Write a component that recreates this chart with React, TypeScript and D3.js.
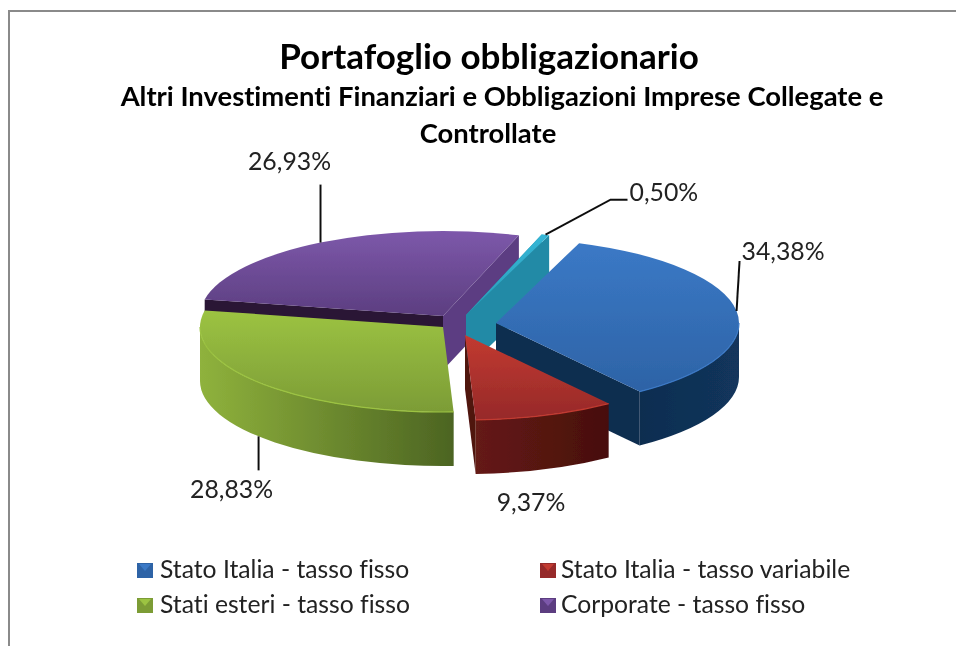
import React from 'react';
import * as d3 from 'd3';

const categories = [
  'Stato Italia - tasso fisso',
  'Stato Italia - tasso variabile',
  'Stati esteri - tasso fisso',
  'Corporate - tasso fisso',
  'Altro',
];
const values = [34.38, 9.37, 28.83, 26.93, 0.5];
const labels = ['34,38%', '9,37%', '28,83%', '26,93%', '0,50%'];
const legendOrder = [0, 1, 2, 3];

// apex of each exploded slice on the page
const apexes = [
  [496, 323],
  [465, 335],
  [443, 327],
  [443, 316],
  [466, 315],
];
const topColors = [
  ['#3b79c6', '#2d63a6'],
  ['#c23a30', '#96292a'],
  ['#9cc342', '#7c9c36'],
  ['#7d58aa', '#5c3e80'],
  ['#35b6d6', '#2a9cb8'],
];
const wallColors = [
  ['#0f2d50', '#12355c'],
  ['#651a14', '#470f0e'],
  ['#8fb23c', '#4c6422'],
  ['#2a1436', '#2a1436'],
  ['#2490ac', '#1d6b80'],
];

const RX = 243;
const RY = 85;
const DEPTH = 54;
const deg = Math.PI / 180;

const slices = d3
  .pie<number>()
  .sort(null)
  .startAngle(20 * deg)
  .endAngle(380 * deg)(values);

const topArc = d3.arc<d3.PieArcDatum<number>>().innerRadius(0).outerRadius(RX);

const at = (i: number, a: number, drop = 0): [number, number] => [
  apexes[i][0] + RX * Math.sin(a),
  apexes[i][1] - RY * Math.cos(a) + drop,
];

// outer rim between two angles, extruded downwards
const rimPath = (i: number, a0: number, a1: number) => {
  const p0 = at(i, a0);
  const p1 = at(i, a1);
  const p2 = at(i, a1, DEPTH);
  const p3 = at(i, a0, DEPTH);
  return `M${p0}A${RX},${RY} 0 0 1 ${p1}L${p2}A${RX},${RY} 0 0 0 ${p3}Z`;
};

// flat cut face running from the apex to the rim
const cutPath = (i: number, a: number) => {
  const [x, y] = apexes[i];
  const p = at(i, a);
  return `M${x},${y}L${p}L${p[0]},${p[1] + DEPTH}L${x},${y + DEPTH}Z`;
};

// cut faces seen from the front, with their colours
const visibleCuts: [number, 'startAngle' | 'endAngle', string][] = [
  [3, 'endAngle', '#5b3d82'],
  [3, 'startAngle', '#2a1436'],
  [4, 'endAngle', '#238aa6'],
  [4, 'startAngle', '#238aa6'],
  [0, 'endAngle', '#0f2d50'],
  [1, 'endAngle', '#4f1210'],
];

// back to front
const drawOrder = [3, 4, 0, 1, 2];

const leaders: Record<number, [number, number][]> = {
  0: [[3, -50]],
  2: [[0, 34]],
  3: [[0, -58]],
  4: [[65, -35], [82, -35]],
};

const labelPos = [
  { dx: 5, dy: -51, anchor: 'start' },
  { x: 531, y: 511, anchor: 'middle' },
  { dx: -27, dy: 62, anchor: 'middle' },
  { dx: -31, dy: -73, anchor: 'middle' },
  { dx: 84, dy: -34, anchor: 'start' },
];

const FONT = 'Lato, "Noto Sans", sans-serif';
const textStyle = { fontVariantLigatures: 'none' };

const App = () => {
  return (
    <svg
      width={956}
      height={646}
      style={{ position: 'absolute', left: 0, top: 0, display: 'block', background: '#fff' }}
    >
      <defs>
        {slices.map((_, i) => (
          <React.Fragment key={i}>
            <linearGradient id={`top${i}`} x1="0" y1="0" x2="0" y2="1">
              <stop offset="0" stopColor={topColors[i][0]} />
              <stop offset="1" stopColor={topColors[i][1]} />
            </linearGradient>
            <linearGradient id={`wall${i}`} x1="0" y1="0" x2="1" y2="0">
              <stop offset="0" stopColor={wallColors[i][0]} />
              <stop offset="1" stopColor={wallColors[i][1]} />
            </linearGradient>
          </React.Fragment>
        ))}
        <filter id="soft" x="-5%" y="-5%" width="110%" height="110%">
          <feGaussianBlur stdDeviation="0.5" />
        </filter>
      </defs>

      <g filter="url(#soft)" style={textStyle}>
        <path d="M9,646V11H956" fill="none" stroke="#8a8a8a" strokeWidth={2} />

        <text x={489} y={69} textAnchor="middle" fontFamily={FONT} fontWeight={700} fontSize={35}>
          Portafoglio obbligazionario
        </text>
        <text x={502} y={106} textAnchor="middle" fontFamily={FONT} fontWeight={700} fontSize={27.4}>
          Altri Investimenti Finanziari e Obbligazioni Imprese Collegate e
        </text>
        <text x={488} y={143} textAnchor="middle" fontFamily={FONT} fontWeight={700} fontSize={27.4}>
          Controllate
        </text>

        {drawOrder.map((i) => {
          const s = slices[i];
          const front0 = Math.max(s.startAngle, 90 * deg);
          const front1 = Math.min(s.endAngle, 270 * deg);
          const cuts = visibleCuts.filter(([c]) => c === i);
          return (
            <g key={i}>
              {cuts.map(([c, side, color]) => (
                <path key={side} d={cutPath(c, s[side])} fill={color} />
              ))}
              {front1 > front0 && (
                <>
                  <path d={rimPath(i, front0, front1)} fill={`url(#wall${i})`} />
                </>
              )}
              <g transform={`translate(${apexes[i]}) scale(1,${RY / RX})`}>
                <path d={topArc(s) ?? ''} fill={`url(#top${i})`} />
              </g>
              {front1 > front0 && (
                <path
                  d={`M${at(i, front0)}A${RX},${RY} 0 0 1 ${at(i, front1)}`}
                  fill="none"
                  stroke={topColors[i][0]}
                  strokeWidth={1.2}
                />
              )}
            </g>
          );
        })}

        {slices.map((s, i) => {
          const mid = (s.startAngle + s.endAngle) / 2;
          const front = Math.cos(mid) < 0;
          const anchor = at(i, mid, front ? DEPTH : 0);
          const legs = leaders[i];
          const pos = labelPos[i];
          const lx = pos.x ?? anchor[0] + (pos.dx ?? 0);
          const ly = pos.y ?? anchor[1] + (pos.dy ?? 0);
          return (
            <g key={i}>
              {legs && (
                <path
                  d={d3.line()([anchor, ...legs.map(([dx, dy]) => [anchor[0] + dx, anchor[1] + dy] as [number, number])]) ?? ''}
                  fill="none"
                  stroke="#111"
                  strokeWidth={2}
                />
              )}
              <text x={lx} y={ly} textAnchor={pos.anchor} fontFamily={FONT} fontSize={24.8} fill="#222">
                {labels[i]}
              </text>
            </g>
          );
        })}

        {legendOrder.map((i, k) => {
          const x = k % 2 === 0 ? 137 : 540;
          const y = k < 2 ? 563 : 598;
          return (
            <g key={i}>
              <rect x={x} y={y} width={16} height={15} fill={topColors[i][1]} />
              <path d={`M${x + 2},${y + 1}H${x + 14}L${x + 8},${y + 8}Z`} fill={topColors[i][0]} />
              <text x={x + (k % 2 === 0 ? 23 : 21)} y={y + 15} fontFamily={FONT} fontSize={24.7} fill="#222">
                {categories[i]}
              </text>
            </g>
          );
        })}
      </g>
    </svg>
  );
};

export default App;
